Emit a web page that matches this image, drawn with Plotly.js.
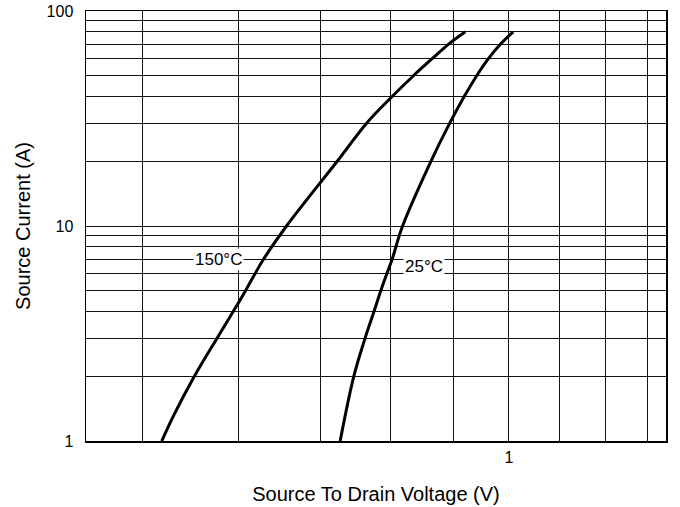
<!DOCTYPE html>
<html>
<head>
<meta charset="utf-8">
<script src="https://cdn.plot.ly/plotly-3.0.1.min.js"></script>
<style>
  html, body { margin: 0; padding: 0; background: #fff; }
  #chart { width: 680px; height: 507px; }
</style>
</head>
<body>
<div id="chart"></div>
<script>
// Source current (A) vs source-to-drain voltage (V)
const current150 = [1, 1.32, 2, 3, 4, 5, 6, 7, 10, 20, 30, 40, 50, 60, 70, 80];
const voltage150 = [0.519, 0.531, 0.552, 0.576, 0.594, 0.608, 0.619, 0.629, 0.657, 0.723, 0.764, 0.802, 0.835, 0.865, 0.892, 0.921];

const current25 = [1, 2, 3, 4, 5, 6, 7, 10, 20, 30, 40, 50, 60, 70, 80];
const voltage25 = [0.727, 0.746, 0.762, 0.775, 0.785, 0.794, 0.802, 0.818, 0.863, 0.894, 0.919, 0.941, 0.962, 0.984, 1.008];

const seriesNames = ['150°C', '25°C'];

const xGridVals = [0.5, 0.6, 0.7, 0.8, 0.9, 1, 1.1, 1.2, 1.3];
const xGridText = ['', '', '', '', '', '1', '', '', ''];
const yGridVals = [1, 2, 3, 4, 5, 6, 7, 8, 9, 10, 20, 30, 40, 50, 60, 70, 80, 90, 100];
const yGridText = ['1', '', '', '', '', '', '', '', '', '10', '', '', '', '', '', '', '', '', '100'];

const FONT = 'Liberation Sans, Arial, sans-serif';

const traces = [
  { x: voltage150, y: current150, name: seriesNames[0], mode: 'lines',
    line: { color: '#000', width: 3, shape: 'spline', smoothing: 1 } },
  { x: voltage25, y: current25, name: seriesNames[1], mode: 'lines',
    line: { color: '#000', width: 3, shape: 'spline', smoothing: 1 } }
];

const layout = {
  width: 680, height: 507,
  margin: { l: 86, r: 14, t: 11, b: 66, pad: 0 },
  paper_bgcolor: '#fff', plot_bgcolor: '#fff',
  showlegend: false,
  font: { family: FONT, size: 16, color: '#000' },
  xaxis: {
    type: 'log',
    range: [Math.log10(0.4498), Math.log10(1.3455)],
    tickmode: 'array', tickvals: xGridVals, ticktext: xGridText,
    ticks: '', ticklabelstandoff: 1,
    showgrid: true, gridcolor: '#111', gridwidth: 1,
    showline: true, linecolor: '#000', linewidth: 1.5, mirror: true,
    tickfont: { family: FONT, size: 16, color: '#000' },
    title: { text: 'Source To Drain Voltage (V)', font: { family: FONT, size: 20, color: '#000' }, standoff: 22 }
  },
  yaxis: {
    type: 'log',
    range: [0, 2],
    tickmode: 'array', tickvals: yGridVals, ticktext: yGridText,
    ticks: '', ticklabelstandoff: 8,
    showgrid: true, gridcolor: '#111', gridwidth: 1,
    showline: true, linecolor: '#000', linewidth: 1.5, mirror: true,
    tickfont: { family: FONT, size: 16, color: '#000' },
    title: { text: 'Source Current (A)', font: { family: FONT, size: 20, color: '#000' }, standoff: 10 }
  },
  annotations: [
    { x: Math.log10(0.5775), y: Math.log10(6.95), xref: 'x', yref: 'y', text: seriesNames[0],
      showarrow: false, bgcolor: '#fff', borderpad: 1,
      font: { family: FONT, size: 17, color: '#000' } },
    { x: Math.log10(0.852), y: Math.log10(6.45), xref: 'x', yref: 'y', text: seriesNames[1],
      showarrow: false, bgcolor: '#fff', borderpad: 1,
      font: { family: FONT, size: 17, color: '#000' } }
  ]
};

Plotly.newPlot('chart', traces, layout, { displayModeBar: false, staticPlot: true });
</script>
</body>
</html>
